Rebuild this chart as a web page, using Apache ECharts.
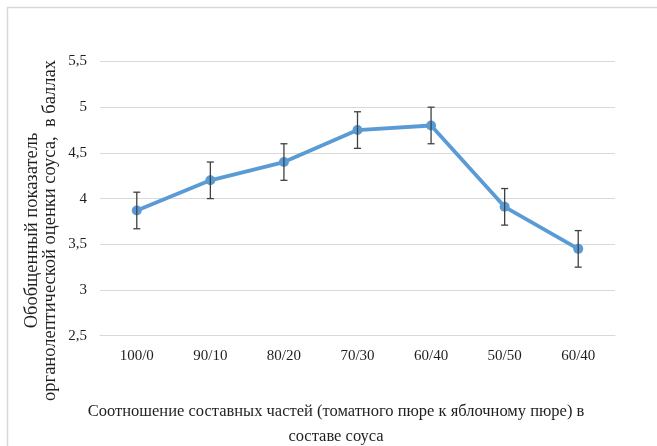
<!DOCTYPE html>
<html>
<head>
<meta charset="utf-8">
<script src="https://cdn.jsdelivr.net/npm/echarts@6/dist/echarts.min.js"></script>
<style>
  html, body { margin: 0; padding: 0; background: #ffffff; }
  #chart { width: 657px; height: 446px; }
</style>
</head>
<body>
<div id="chart"></div>
<script>
// Ratio of tomato puree to apple puree in the sauce
const categories = ['100/0', '90/10', '80/20', '70/30', '60/40', '50/50', '60/40'];
// Overall organoleptic score, points
const scores = [3.87, 4.2, 4.4, 4.75, 4.8, 3.91, 3.45];
// Half-width of the error bars, points
const errors = [0.2, 0.2, 0.2, 0.2, 0.2, 0.2, 0.2];
// Value axis ticks
const yTicks = [2.5, 3, 3.5, 4, 4.5, 5, 5.5];

const yTitleLines = ['Обобщенный показатель', 'органолептической оценки соуса,  в баллах'];
const xTitleLines = ['Соотношение составных частей (томатного пюре к яблочному пюре) в', 'составе соуса'];

const FONT = '"Liberation Serif", "Times New Roman", serif';
const TEXT = '#1f1f1f';

const errorData = scores.map((v, i) => [i, v - errors[i], v + errors[i]]);

const chart = echarts.init(document.getElementById('chart'), null, { renderer: 'canvas' });

chart.setOption({
  animation: false,
  backgroundColor: '#ffffff',
  grid: { left: 100, right: 42, top: 61.5, bottom: 110.3, containLabel: false },
  xAxis: {
    type: 'category',
    data: categories,
    boundaryGap: true,
    axisLine: { show: true, lineStyle: { color: '#d9d9d9', width: 1 } },
    axisTick: { show: false },
    axisLabel: { color: TEXT, fontFamily: FONT, fontSize: 15, margin: 13 },
    splitLine: { show: false }
  },
  yAxis: {
    type: 'value',
    min: yTicks[0],
    max: yTicks[yTicks.length - 1],
    interval: 0.5,
    axisLine: { show: false },
    axisTick: { show: false },
    axisLabel: {
      color: TEXT, fontFamily: FONT, fontSize: 15, margin: 13,
      formatter: v => String(v).replace('.', ',')
    },
    splitLine: { show: true, lineStyle: { color: '#d9d9d9', width: 1.2 } }
  },
  graphic: [
    {
      type: 'rect',
      silent: true,
      shape: { x: 7.5, y: 7.5, width: 700, height: 500 },
      style: { fill: null, stroke: '#d9d9d9', lineWidth: 1.5 }
    },
    {
      type: 'text',
      x: 41, y: 230.5,
      rotation: Math.PI / 2,
      style: {
        text: yTitleLines.join('\n'),
        fontFamily: FONT, fontSize: 18.5, lineHeight: 17.5,
        fill: TEXT, align: 'center', verticalAlign: 'middle'
      }
    },
    {
      type: 'text',
      x: 336, y: 424,
      style: {
        text: xTitleLines.join('\n'),
        fontFamily: FONT, fontSize: 16.5, lineHeight: 25,
        fill: TEXT, align: 'center', verticalAlign: 'middle'
      }
    }
  ],
  series: [
    {
      type: 'line',
      data: scores,
      z: 3,
      symbol: 'circle',
      symbolSize: 10,
      lineStyle: { color: '#5b9bd5', width: 3.8 },
      itemStyle: { color: '#5b9bd5' }
    },
    {
      type: 'custom',
      z: 4,
      data: errorData,
      renderItem: function (params, api) {
        const x = api.value(0);
        const lo = api.coord([x, api.value(1)]);
        const hi = api.coord([x, api.value(2)]);
        const cap = 3.5;
        const style = { stroke: '#404040', lineWidth: 1.3 };
        return {
          type: 'group',
          children: [
            { type: 'line', shape: { x1: lo[0], y1: lo[1], x2: hi[0], y2: hi[1] }, style },
            { type: 'line', shape: { x1: hi[0] - cap, y1: hi[1], x2: hi[0] + cap, y2: hi[1] }, style },
            { type: 'line', shape: { x1: lo[0] - cap, y1: lo[1], x2: lo[0] + cap, y2: lo[1] }, style }
          ]
        };
      }
    }
  ]
});
</script>
</body>
</html>
